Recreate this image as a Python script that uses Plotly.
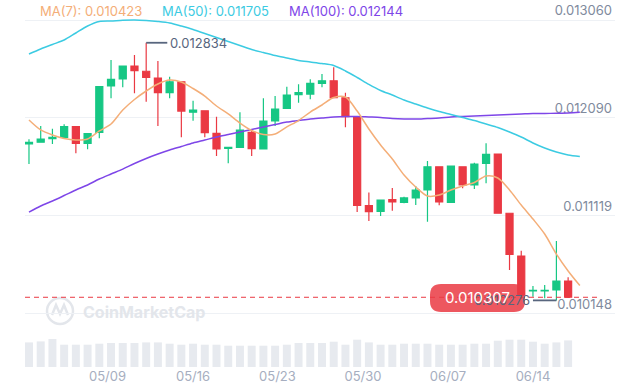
import plotly.graph_objects as go

# ---------------- data ----------------
dates = ["05/02", "05/03", "05/04", "05/05", "05/06", "05/07", "05/08", "05/09", "05/10", "05/11",
         "05/12", "05/13", "05/14", "05/15", "05/16", "05/17", "05/18", "05/19", "05/20", "05/21",
         "05/22", "05/23", "05/24", "05/25", "05/26", "05/27", "05/28", "05/29", "05/30", "05/31",
         "06/01", "06/02", "06/03", "06/04", "06/05", "06/06", "06/07", "06/08", "06/09", "06/10",
         "06/11", "06/12", "06/13", "06/14", "06/15", "06/16", "06/17", "06/18"]

open_ = [0.011829, 0.011846, 0.011881, 0.011895, 0.012001, 0.011836, 0.011945, 0.012405, 0.012474, 0.012603,
         0.012551, 0.012484, 0.012338, 0.012447, 0.012144, 0.012159, 0.011935, 0.011786, 0.011796, 0.011945,
         0.011779, 0.012057, 0.012183, 0.012318, 0.012325, 0.012431, 0.012457, 0.012288, 0.012100, 0.011218,
         0.011160, 0.011276, 0.011250, 0.011293, 0.011372, 0.011603, 0.011250, 0.011603, 0.011422, 0.011637,
         0.011729, 0.011141, 0.010717, 0.010369, 0.010369, 0.010379, 0.010468]
high = [0.011875, 0.012007, 0.011981, 0.012024, 0.012003, 0.011933, 0.012400, 0.012663, 0.012608, 0.012712,
        0.012834, 0.012653, 0.012497, 0.012449, 0.012259, 0.012161, 0.012100, 0.011799, 0.012144, 0.011975,
        0.012283, 0.012305, 0.012398, 0.012422, 0.012471, 0.012524, 0.012590, 0.012338, 0.012102, 0.011347,
        0.011275, 0.011392, 0.011305, 0.011412, 0.011660, 0.011605, 0.011610, 0.011605, 0.011643, 0.011836,
        0.011731, 0.011142, 0.010769, 0.010419, 0.010429, 0.010866, 0.010505]
low = [0.011630, 0.011844, 0.011829, 0.011885, 0.011736, 0.011776, 0.011885, 0.012283, 0.012392, 0.012332,
       0.012249, 0.012007, 0.012283, 0.011895, 0.012060, 0.011895, 0.011710, 0.011637, 0.011794, 0.011710,
       0.011777, 0.012007, 0.012181, 0.012239, 0.012273, 0.012392, 0.012286, 0.011995, 0.011153, 0.011064,
       0.011114, 0.011166, 0.011240, 0.011223, 0.011057, 0.011220, 0.011248, 0.011389, 0.011382, 0.011438,
       0.011139, 0.010578, 0.010290, 0.010312, 0.010297, 0.010276, 0.010300]
close = [0.011844, 0.011878, 0.011895, 0.012001, 0.011836, 0.011931, 0.012398, 0.012471, 0.012603, 0.012557,
         0.012491, 0.012338, 0.012447, 0.012156, 0.012166, 0.011941, 0.011779, 0.011796, 0.011968, 0.011782,
         0.012057, 0.012176, 0.012315, 0.012338, 0.012431, 0.012457, 0.012288, 0.012100, 0.011220, 0.011158,
         0.011273, 0.011253, 0.011293, 0.011372, 0.011603, 0.011253, 0.011610, 0.011422, 0.011630, 0.011726,
         0.011141, 0.010733, 0.010329, 0.010376, 0.010376, 0.010468, 0.010307]
volume = [24.6, 25.6, 28.0, 22.3, 22.3, 22.3, 23.3, 24.0, 24.0, 24.0,
          24.6, 24.6, 23.3, 22.3, 23.3, 22.3, 22.3, 21.3, 21.3, 21.3,
          21.3, 21.3, 22.3, 24.0, 24.0, 24.0, 25.3, 22.3, 27.3, 24.6,
          22.3, 22.3, 23.3, 23.3, 23.3, 22.3, 22.3, 22.3, 23.3, 23.3,
          26.3, 27.3, 27.3, 25.3, 23.3, 24.6, 26.6]

ma7 = [0.012067, 0.011968, 0.011918, 0.011883, 0.011868, 0.011878, 0.011958, 0.012027, 0.012166, 0.012271,
       0.012355, 0.012425, 0.012464, 0.012444, 0.012380, 0.012305, 0.012206, 0.012127, 0.012037, 0.011963,
       0.011923, 0.011928, 0.011998, 0.012062, 0.012146, 0.012216, 0.012290, 0.012295, 0.012156, 0.011978,
       0.011819, 0.011680, 0.011521, 0.011402, 0.011312, 0.011322, 0.011372, 0.011412, 0.011446, 0.011511,
       0.011491, 0.011372, 0.011223, 0.011084, 0.010935, 0.010736, 0.010568, 0.010423]
ma50 = [0.012722, 0.012772, 0.012817, 0.012861, 0.012931, 0.013000, 0.013045, 0.013050, 0.013057, 0.013060,
        0.013055, 0.013045, 0.013030, 0.013000, 0.012966, 0.012926, 0.012886, 0.012847, 0.012807, 0.012767,
        0.012737, 0.012708, 0.012683, 0.012658, 0.012643, 0.012628, 0.012608, 0.012554, 0.012489, 0.012420,
        0.012360, 0.012315, 0.012266, 0.012226, 0.012186, 0.012151, 0.012122, 0.012092, 0.012062, 0.012027,
        0.011993, 0.011948, 0.011898, 0.011839, 0.011789, 0.011749, 0.011719, 0.011705]
ma100 = [0.011153, 0.011213, 0.011263, 0.011317, 0.011372, 0.011422, 0.011481, 0.011531, 0.011580, 0.011635,
         0.011685, 0.011729, 0.011769, 0.011804, 0.011839, 0.011868, 0.011898, 0.011923, 0.011948, 0.011973,
         0.011998, 0.012022, 0.012047, 0.012062, 0.012077, 0.012087, 0.012097, 0.012102, 0.012102, 0.012097,
         0.012092, 0.012082, 0.012077, 0.012077, 0.012082, 0.012087, 0.012097, 0.012102, 0.012107, 0.012112,
         0.012117, 0.012122, 0.012127, 0.012132, 0.012132, 0.012134, 0.012137, 0.012144]

price_ticks = [0.010148, 0.011119, 0.012090, 0.013060]
tick_labels = ["05/09", "05/16", "05/23", "05/30", "06/07", "06/14"]
tick_pos = [6.7, 14.0, 21.2, 28.5, 35.75, 43.0]
current_price = 0.010307
max_price = 0.012834
min_price = 0.010276
ma_labels = ["MA(7): 0.010423", "MA(50): 0.011705", "MA(100): 0.012144"]

# ---------------- styling ----------------
GREEN = "#16C784"
RED = "#EA3943"
C7, C50, C100 = "#F4AE78", "#3CCBE2", "#7E46E8"
FONT = "Inter, Roboto, sans-serif"

W, H = 640, 391
PL, PR, PT, PB = 25, 615, 0, 367  # plot area in pixels


def px(x):
    return (x - PL) / (PR - PL)


def py(y):
    return (PB - y) / (PB - PT)


n = len(close)
idx = list(range(len(dates)))
imax = high.index(max_price)
imin = low.index(min_price)

fig = go.Figure()

fig.add_trace(go.Bar(x=idx[:n], y=volume, yaxis="y2", marker=dict(color="#E7EAEF", line=dict(width=0)),
                     width=0.68, hoverinfo="skip", showlegend=False))

fig.add_trace(go.Candlestick(
    x=idx[:n], open=open_, high=high, low=low, close=close,
    increasing=dict(line=dict(color=GREEN, width=1.2), fillcolor=GREEN),
    decreasing=dict(line=dict(color=RED, width=1.2), fillcolor=RED),
    whiskerwidth=0, showlegend=False, yaxis="y"))

for vals, col in [(ma100, C100), (ma50, C50), (ma7, C7)]:
    fig.add_trace(go.Scatter(x=idx, y=vals, mode="lines", line=dict(color=col, width=1.5, shape="spline", smoothing=0.8),
                             hoverinfo="skip", showlegend=False, yaxis="y"))

shapes = []
# current price dashed line
shapes.append(dict(type="line", xref="paper", yref="y", x0=0, x1=px(601), y0=current_price, y1=current_price,
                   line=dict(color=RED, width=1, dash="5px,4px"), layer="above"))
# max marker line
shapes.append(dict(type="line", xref="x", yref="y", x0=imax, x1=imax + 1.8, y0=max_price, y1=max_price,
                   line=dict(color="#58667E", width=1.8)))
# min marker line
shapes.append(dict(type="line", xref="x", yref="y", x0=imin, x1=imin - 2.0, y0=min_price, y1=min_price,
                   line=dict(color="#58667E", width=1.8)))


# rounded price label box
def rounded_rect(x0, y0, x1, y1, r):
    pts = [
        f"M {px(x0 + r)} {py(y0)}",
        f"L {px(x1 - r)} {py(y0)}",
        f"Q {px(x1)} {py(y0)} {px(x1)} {py(y0 + r)}",
        f"L {px(x1)} {py(y1 - r)}",
        f"Q {px(x1)} {py(y1)} {px(x1 - r)} {py(y1)}",
        f"L {px(x0 + r)} {py(y1)}",
        f"Q {px(x0)} {py(y1)} {px(x0)} {py(y1 - r)}",
        f"L {px(x0)} {py(y0 + r)}",
        f"Q {px(x0)} {py(y0)} {px(x0 + r)} {py(y0)}",
        "Z",
    ]
    return " ".join(pts)


shapes.append(dict(type="path", xref="paper", yref="paper", path=rounded_rect(430, 284, 525, 312, 11),
                   fillcolor="rgba(234,57,67,0.85)", line=dict(width=0), layer="above"))

# watermark logo
shapes.append(dict(type="circle", xref="paper", yref="paper", x0=px(47), x1=px(73), y0=py(324), y1=py(298),
                   line=dict(color="#E3E6EB", width=2.5), layer="below"))
shapes.append(dict(type="path", xref="paper", yref="paper",
                   path=f"M {px(52)} {py(315)} L {px(56)} {py(305)} L {px(60)} {py(314)} L {px(64)} {py(305)} L {px(68)} {py(315)}",
                   line=dict(color="#E3E6EB", width=2.5), layer="below"))

annotations = []
# MA legend
for txt, col, x0 in zip(ma_labels, [C7, C50, C100], [38, 160, 287]):
    annotations.append(dict(text=txt, xref="paper", yref="paper", x=px(x0), y=py(11), xanchor="left",
                            yanchor="middle", showarrow=False, font=dict(family=FONT, size=13, color=col)))
# max label
annotations.append(dict(text=f"{max_price:.6f}", xref="x", yref="y", x=imax + 1.85, y=max_price, xanchor="left",
                        yanchor="middle", showarrow=False, font=dict(family=FONT, size=13, color="#58667E")))
# min label
annotations.append(dict(text=f"{min_price:.6f}", xref="x", yref="y", x=imin - 2.05, y=min_price, xanchor="right",
                        yanchor="middle", showarrow=False, font=dict(family=FONT, size=13, color="#58667E")))
# current price label
annotations.append(dict(text=f"{current_price:.6f}", xref="paper", yref="y", x=px(477.5), y=current_price,
                        xanchor="center", yanchor="middle", showarrow=False,
                        font=dict(family=FONT, size=15, color="white")))
# watermark text
annotations.append(dict(text="<b>CoinMarketCap</b>", xref="paper", yref="paper", x=px(81), y=py(312),
                        xanchor="left", yanchor="middle", showarrow=False,
                        font=dict(family=FONT, size=16, color="#E3E6EB")))

y_top = 0.013060 + 20 * 0.000009929
y_bot = 0.013060 - 310 * 0.000009929

fig.update_layout(
    width=W, height=H,
    margin=dict(l=PL, r=W - PR, t=PT, b=H - PB),
    paper_bgcolor="white", plot_bgcolor="white",
    font=dict(family=FONT),
    showlegend=False,
    boxgap=0.14, boxgroupgap=0.3,
    xaxis=dict(domain=[0, 1], range=[-0.34, 50.0], anchor="y2", tickmode="array", tickvals=tick_pos,
               ticktext=tick_labels, showgrid=False, zeroline=False, showline=False, ticks="",
               tickfont=dict(family=FONT, size=13, color="#A6AEC0"), rangeslider=dict(visible=False),
               fixedrange=True),
    yaxis=dict(domain=[(PB - 330) / PB, 1], range=[y_bot, y_top], side="right", anchor="x",
               tickmode="array", tickvals=price_ticks, ticktext=[f"{v:.6f}" for v in price_ticks],
               ticklabelposition="inside top", showgrid=True, gridcolor="#EEF1F5", gridwidth=1,
               zeroline=False, showline=False, ticks="", layer="below traces",
               tickfont=dict(family=FONT, size=13, color="#808A9D")),
    yaxis2=dict(domain=[0, (PB - 330) / PB], range=[0, 37], visible=False, anchor="x"),
    shapes=shapes,
    annotations=annotations,
)

fig.write_html("out.html", config={"displayModeBar": False},
               post_script="document.body.style.margin='0';document.body.style.overflow='hidden';")
